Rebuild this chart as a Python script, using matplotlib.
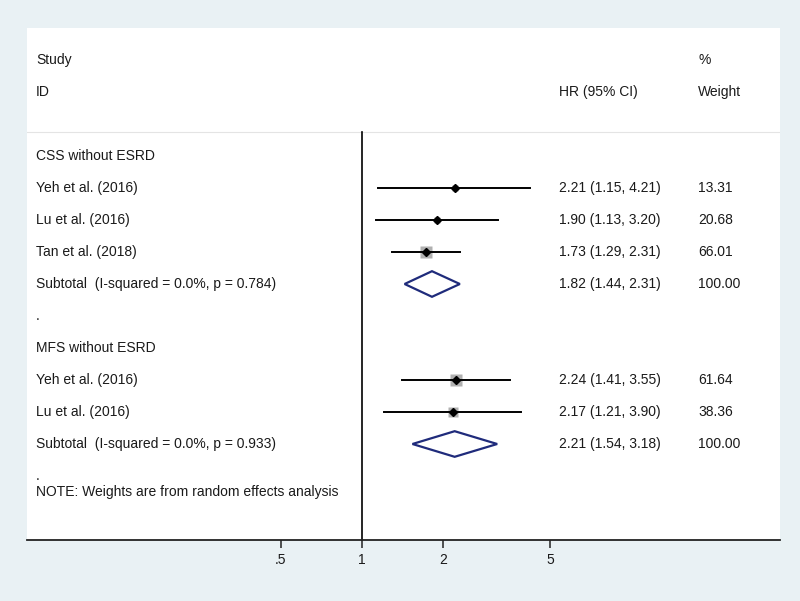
import numpy as np
import matplotlib
matplotlib.use("Agg")
import matplotlib.pyplot as plt

plt.rcParams['font.family'] = ['Liberation Sans', 'DejaVu Sans']

# ---- data ----
labels = ["CSS without ESRD", "Yeh et al. (2016)", "Lu et al. (2016)", "Tan et al. (2018)",
          "Subtotal  (I-squared = 0.0%, p = 0.784)", ".",
          "MFS without ESRD", "Yeh et al. (2016)", "Lu et al. (2016)",
          "Subtotal  (I-squared = 0.0%, p = 0.933)", "."]
kind = ["head", "study", "study", "study", "sub", "blank",
        "head", "study", "study", "sub", "blank"]
hr = [None, 2.21, 1.90, 1.73, 1.82, None, None, 2.24, 2.17, 2.21, None]
lo = [None, 1.15, 1.13, 1.29, 1.44, None, None, 1.41, 1.21, 1.54, None]
hi = [None, 4.21, 3.20, 2.31, 2.31, None, None, 3.55, 3.90, 3.18, None]
weights = [None, 13.31, 20.68, 66.01, 100.00, None, None, 61.64, 38.36, 100.00, None]
xticks = [0.5, 1, 2, 5]
xticklabels = [".5", "1", "2", "5"]
note = "NOTE: Weights are from random effects analysis"

W, H = 800, 601
fig = plt.figure(figsize=(W / 100, H / 100), dpi=100)
fig.patch.set_facecolor('#e9f1f4')

px_left, px_right, px_top, px_bot = 27, 780, 28, 540
ax = fig.add_axes([px_left / W, (H - px_bot) / H, (px_right - px_left) / W, (px_bot - px_top) / H])
ax.set_facecolor('white')
ax.set_xscale('log')
x1px, ppl = 362, 81.0
ax.set_xlim(2 ** ((px_left - x1px) / ppl), 2 ** ((px_right - x1px) / ppl))
ax.set_ylim(15, -1)  # row r at pixel 60 + 32*r

def fx(px):
    return (px - px_left) / (px_right - px_left)

tc = '#1a1a1a'
fs = 10
tr = ax.get_yaxis_transform()  # x in axes fraction, y in data

# header
ax.text(fx(36), 0, "Study", transform=tr, ha='left', va='center', fontsize=fs, color=tc)
ax.text(fx(36), 1, "ID", transform=tr, ha='left', va='center', fontsize=fs, color=tc)
ax.text(fx(559), 1, "HR (95% CI)", transform=tr, ha='left', va='center', fontsize=fs, color=tc)
ax.text(fx(698), 0, "%", transform=tr, ha='left', va='center', fontsize=fs, color=tc)
ax.text(fx(698), 1, "Weight", transform=tr, ha='left', va='center', fontsize=fs, color=tc)

# faint header separator
ax.axhline(2.25, color='#e4e4e4', lw=0.8)
# null line
ax.plot([1, 1], [2.25, 15], color='black', lw=1.2, clip_on=False)

tan_side = 12.5
for i, (lab, k) in enumerate(zip(labels, kind)):
    r = 3 + i
    ax.text(fx(36), r, lab, transform=tr, ha='left', va='center', fontsize=fs, color=tc)
    if hr[i] is None:
        continue
    ax.text(fx(559), r, f"{hr[i]:.2f} ({lo[i]:.2f}, {hi[i]:.2f})", transform=tr,
            ha='left', va='center', fontsize=fs, color=tc)
    ax.text(fx(698), r, f"{weights[i]:.2f}", transform=tr,
            ha='left', va='center', fontsize=fs, color=tc)
    if k == "study":
        side = tan_side * np.sqrt(weights[i] / 66.01) * 0.72
        ax.plot([hr[i]], [r], marker='s', ms=side, color='#b0b0b0', mec='none', zorder=2)
        ax.plot([lo[i], hi[i]], [r, r], color='black', lw=1.4, zorder=3)
        ax.plot([hr[i]], [r], marker='D', ms=3.6, color='black', zorder=4)
    else:
        h = 0.40
        ax.fill([lo[i], hr[i], hi[i], hr[i], lo[i]], [r, r - h, r, r + h, r],
                facecolor='none', edgecolor='#1f2b7b', lw=1.6, zorder=3)

ax.text(fx(36), 13.5, note, transform=tr, ha='left', va='center', fontsize=fs, color=tc)

for s in ['top', 'right', 'left']:
    ax.spines[s].set_visible(False)
ax.spines['bottom'].set_linewidth(1.3)
ax.spines['bottom'].set_color('#222222')
ax.set_yticks([])
ax.set_xticks(xticks)
ax.set_xticklabels(xticklabels)
ax.xaxis.set_minor_locator(matplotlib.ticker.NullLocator())
ax.tick_params(axis='x', direction='out', length=6, width=1.1, color='#222222',
               labelsize=fs, labelcolor=tc, pad=3)

fig.savefig("out.png", dpi=100, facecolor=fig.get_facecolor())
